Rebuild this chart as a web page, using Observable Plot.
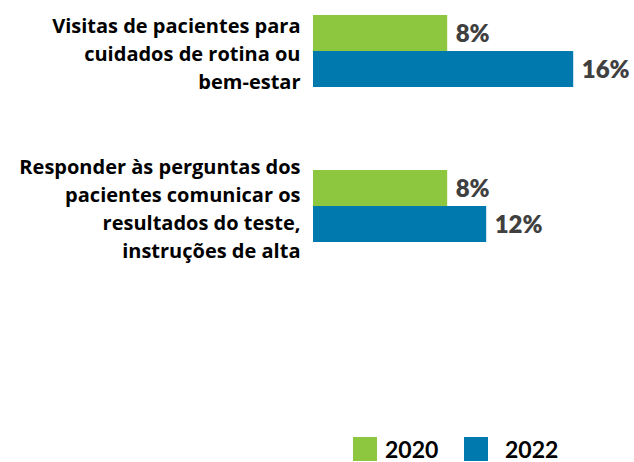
<!DOCTYPE html>
<html>
<head>
<meta charset="utf-8">
<script src="https://cdn.jsdelivr.net/npm/d3@7"></script>
<script src="https://cdn.jsdelivr.net/npm/@observablehq/plot@0.6"></script>
<style>
  html, body { margin: 0; padding: 0; background: #fff; }
  #wrap { position: relative; width: 634px; height: 462px; font-family: Lato, "Open Sans", sans-serif; }
  #legend { position: absolute; left: 0; top: 430px; width: 634px; height: 32px; }
  .sw { position: absolute; top: 7px; width: 24px; height: 24px; }
  .lt { position: absolute; top: 4px; font-weight: 700; font-size: 23px; line-height: 30px; color: #000; }
</style>
</head>
<body>
<div id="wrap"><div id="chart"></div><div id="legend"></div></div>
<script>
const categories = [
  "Visitas de pacientes para cuidados de rotina ou bem-estar",
  "Responder às perguntas dos pacientes comunicar os resultados do teste, instruções de alta"
];
const categoryLines = [
  "Visitas de pacientes para\ncuidados de rotina ou\nbem-estar",
  "Responder às perguntas dos\npacientes comunicar os\nresultados do teste,\ninstruções de alta"
];
const years = ["2020", "2022"];
const colors = ["#8dc63f", "#007aae"];
const values2020 = [8.25, 8.25];
const values2022 = [16, 10.65];
const labels2020 = ["8%", "8%"];
const labels2022 = ["16%", "12%"];

const rows = [];
categories.forEach((c, i) => {
  rows.push({category: c, year: years[0], value: values2020[i], label: labels2020[i]});
  rows.push({category: c, year: years[1], value: values2022[i], label: labels2022[i]});
});
const catRows = categories.map((c, i) => ({category: c, text: categoryLines[i]}));

const chart = Plot.plot({
  width: 634,
  height: 430,
  marginLeft: 313,
  marginRight: 12,
  marginTop: 13,
  marginBottom: 188,
  style: {fontFamily: "Lato, 'Open Sans', sans-serif", background: "#fff"},
  x: {domain: [0, 19], axis: null},
  y: {domain: years, padding: 0, axis: null},
  fy: {domain: categories, paddingInner: 0.532, paddingOuter: 0, axis: null},
  color: {domain: years, range: colors},
  marks: [
    Plot.barX(rows, {x: "value", y: "year", fy: "category", fill: "year"}),
    Plot.text(rows, {x: "value", y: "year", fy: "category", text: "label", textAnchor: "start", dx: 8, dy: 1,
      fill: "#404040", fontSize: 24, fontWeight: 800}),
    Plot.text(catRows, {fy: "category", text: "text", frameAnchor: "left", textAnchor: "end", dx: -13, dy: 1,
      fill: "#000", fontSize: 20, fontWeight: 700, lineHeight: 1.39, fontFamily: "'Open Sans', sans-serif"})
  ]
});
document.getElementById("chart").appendChild(chart);

const legend = document.getElementById("legend");
const swX = [353, 464];
const txX = [385, 505];
years.forEach((y, i) => {
  const s = document.createElement("div");
  s.className = "sw"; s.style.left = swX[i] + "px"; s.style.background = colors[i];
  legend.appendChild(s);
  const t = document.createElement("div");
  t.className = "lt"; t.style.left = txX[i] + "px"; t.textContent = y;
  legend.appendChild(t);
});
</script>
</body>
</html>
